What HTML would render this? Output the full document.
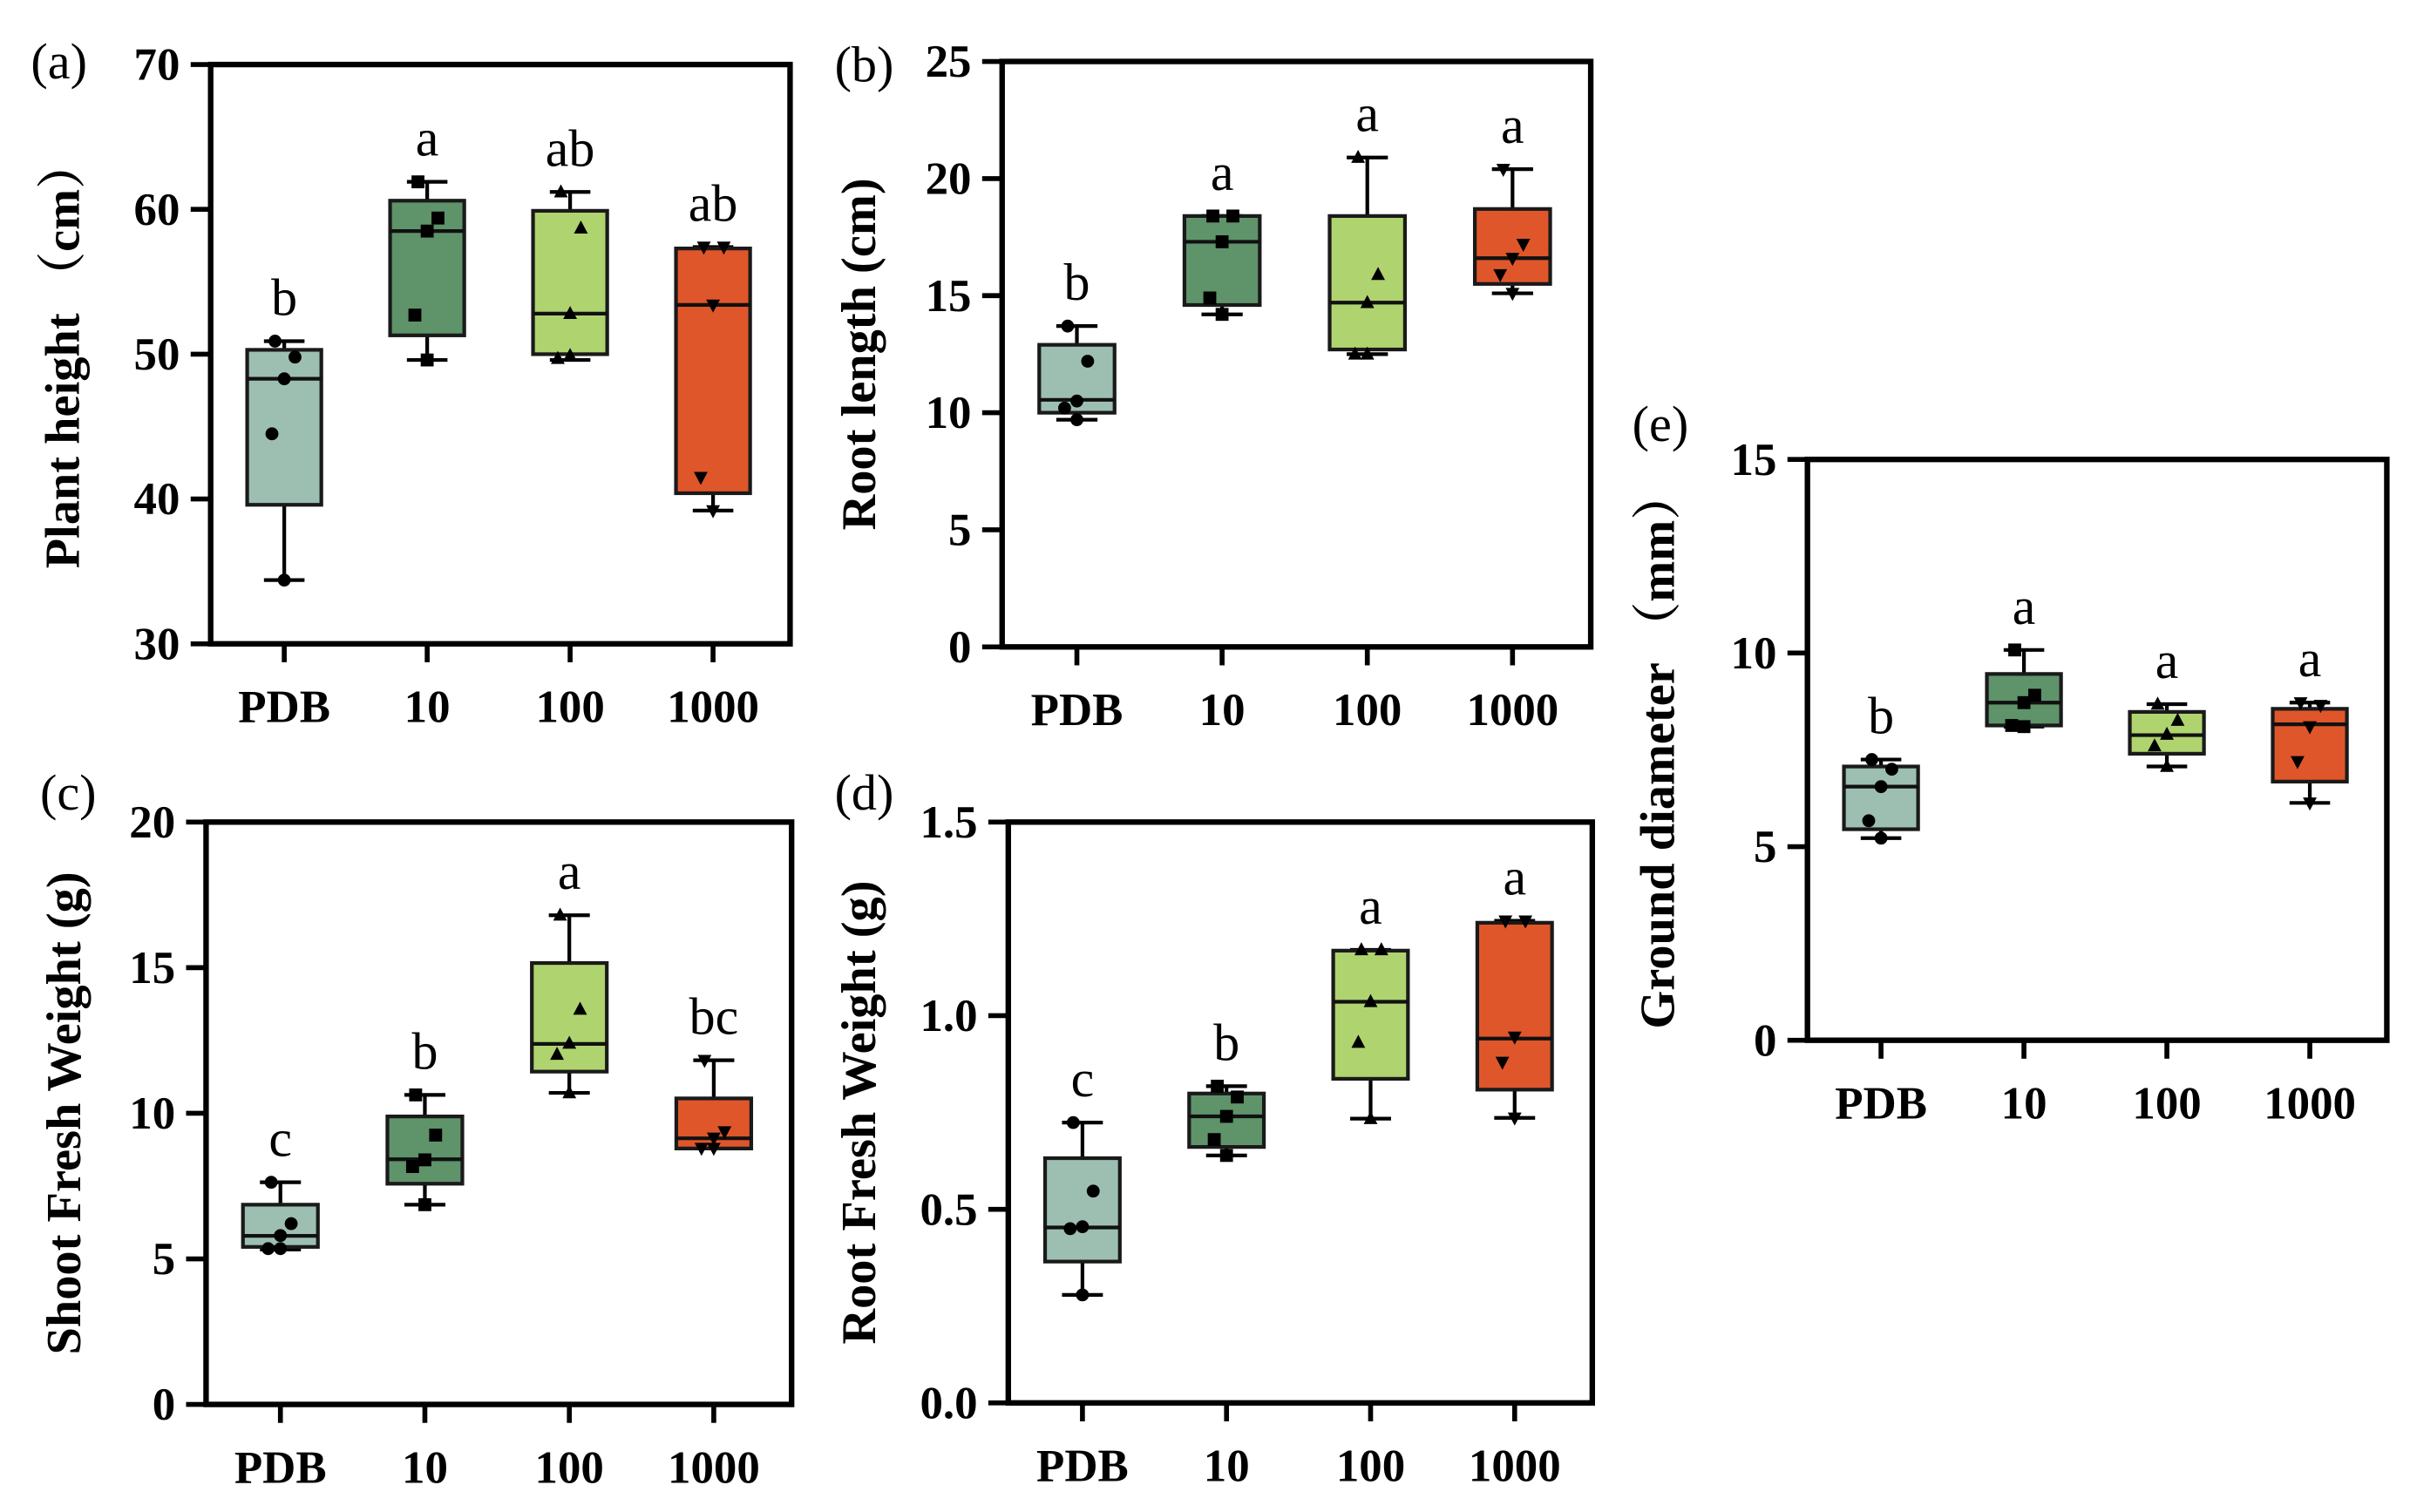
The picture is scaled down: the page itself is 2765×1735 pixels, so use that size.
<!DOCTYPE html>
<html><head><meta charset="utf-8">
<style>
html,body{margin:0;padding:0;background:#fff;}
svg{display:block;}
text{font-family:"Liberation Serif","Times New Roman",Times,serif;fill:#000;}
.cjk{font-family:"Liberation Serif","Noto Serif CJK SC",serif;}
.tick{font-weight:bold;font-size:30px;}
.title{font-weight:bold;font-size:32px;}
.let{font-size:34px;}
.plab{font-size:33px;}
</style></head>
<body>
<svg id="fig" width="2765" height="1735" viewBox="0 0 1568 984" xmlns="http://www.w3.org/2000/svg"></svg>
<script>
const categories = ["PDB","10","100","1000"];
const colors = ["#9dbfb2","#5f936a","#afd46f","#e0562b"];
const markers = ["circle","square","tri-up","tri-down"];

// (a) Plant height
const aMin=[34.4,49.6,49.6,39.2], aQ1=[39.6,51.3,50.0,40.4], aMed=[48.3,58.5,52.8,53.4], aQ3=[50.3,60.6,59.9,57.3], aMax=[50.9,61.9,61.2,57.4];
const aPts=[[50.9,49.8,48.3,44.5,34.4],[61.9,59.4,58.5,52.7,49.6],[61.2,58.7,52.8,49.7,49.9],[57.4,57.4,53.4,41.5,39.2]];
const aLetters=["b","a","ab","ab"];
const aTicks=[30,40,50,60,70];
// (b) Root length
const bMin=[9.7,14.2,12.5,15.1], bQ1=[10.0,14.6,12.7,15.5], bMed=[10.55,17.3,14.7,16.6], bQ3=[12.9,18.4,18.4,18.7], bMax=[13.7,18.4,20.9,20.4];
const bPts=[[13.7,12.2,10.5,10.2,9.7],[18.4,18.4,17.3,14.9,14.2],[20.9,15.9,14.7,12.5,12.5],[20.4,17.2,16.6,15.9,15.1]];
const bLetters=["b","a","a","a"];
const bTicks=[0,5,10,15,20,25];
// (c) Shoot fresh weight
const cMin=[5.32,6.86,10.7,8.8], cQ1=[5.41,7.58,11.43,8.79], cMed=[5.79,8.42,12.38,9.14], cQ3=[6.86,9.89,15.16,10.51], cMax=[7.63,10.63,16.8,11.82];
const cPts=[[7.63,6.21,5.8,5.35,5.35],[10.63,9.25,8.4,8.17,6.86],[16.8,13.57,12.4,12.02,10.7],[11.82,9.37,9.15,8.8,8.8]];
const cLetters=["c","b","a","bc"];
const cTicks=[0,5,10,15,20];
// (d) Root fresh weight
const dMin=[0.279,0.639,0.734,0.736], dQ1=[0.365,0.661,0.837,0.809], dMed=[0.453,0.74,1.036,0.941], dQ3=[0.632,0.799,1.168,1.24], dMax=[0.724,0.818,1.17,1.245];
const dPts=[[0.724,0.547,0.455,0.45,0.279],[0.818,0.79,0.74,0.68,0.639],[1.17,1.17,1.036,0.931,0.734],[1.245,1.245,0.945,0.88,0.736]];
const dLetters=["c","b","a","a"];
const dTicks=[0,0.5,1.0,1.5];
const dTickLabels=["0.0","0.5","1.0","1.5"];
// (e) Ground diameter
const eMin=[5.22,8.1,7.07,6.13], eQ1=[5.45,8.13,7.4,6.68], eMed=[6.55,8.72,7.88,8.16], eQ3=[7.07,9.46,8.48,8.56], eMax=[7.25,10.08,8.68,8.72];
const ePts=[[7.25,7.0,6.55,5.67,5.22],[10.08,8.91,8.72,8.13,8.1],[8.68,8.26,7.9,7.6,7.07],[8.72,8.65,8.1,7.2,6.13]];
const eLetters=["b","a","a","a"];
const eTicks=[0,5,10,15];

const jitter=[-6,7,0,-8,0];
const NS="http://www.w3.org/2000/svg";
const svg=document.getElementById('fig');
function mk(tag,attrs,parent){const e=document.createElementNS(NS,tag);for(const k in attrs)e.setAttribute(k,attrs[k]);(parent||svg).appendChild(e);return e;}

function panel(id,L,R,T,B,ymin,ymax,ticks,tickLabels,mn,q1,md,q3,mx,pts,letters,title,tx,label,lx,ly){
  const g=mk('g',{});
  
  
  const y=v=>B-(v-ymin)/(ymax-ymin)*(B-T);
  const W=R-L;
  const x=i=>L+W*(0.127+0.2467*i);
  const bw=W*0.128, cw=W*0.07;
  for(let i=0;i<categories.length;i++){
    const bg=mk('g',{},g);
    
    
    const cx=x(i);
    const wl=mk('line',{x1:cx,x2:cx,y1:y(mn[i]),y2:y(mx[i]),stroke:'#000','stroke-width':2.4},bg);
    
    
    [mn[i],mx[i]].forEach(v=>{const c=mk('line',{x1:cx-cw/2,x2:cx+cw/2,y1:y(v),y2:y(v),stroke:'#000','stroke-width':2.4},bg);
      
      });
    const r=mk('rect',{x:cx-bw/2,y:y(q3[i]),width:bw,height:y(q1[i])-y(q3[i]),fill:colors[i],stroke:'#1a1a1a','stroke-width':2.4},bg);
    
    
    const m=mk('line',{x1:cx-bw/2,x2:cx+bw/2,y1:y(md[i]),y2:y(md[i]),stroke:'#111','stroke-width':2.4},bg);
    
    
    pts[i].forEach((v,j)=>{
      const px=cx+jitter[j], py=y(v); let p;
      if(markers[i]==='circle') p=mk('circle',{cx:px,cy:py,r:4.2,fill:'#000'},bg);
      else if(markers[i]==='square') p=mk('rect',{x:px-4.2,y:py-4.2,width:8.4,height:8.4,fill:'#000'},bg);
      else if(markers[i]==='tri-up') p=mk('polygon',{points:`${px},${py-5} ${px-4.5},${py+3.5} ${px+4.5},${py+3.5}`,fill:'#000'},bg);
      else p=mk('polygon',{points:`${px},${py+5} ${px-4.5},${py-3.5} ${px+4.5},${py-3.5}`,fill:'#000'},bg);
      
      
    });
    const lt=mk('text',{x:cx,y:y(mx[i])-17,'text-anchor':'middle',class:'let'},bg);
    lt.textContent=letters[i];
    
    
    const xt=mk('line',{x1:cx,x2:cx,y1:B,y2:B+12,stroke:'#000','stroke-width':3.2},g);
    
    
    const xl=mk('text',{x:cx,y:B+51,'text-anchor':'middle',class:'tick'},g);
    xl.textContent=categories[i];
    
    
  }
  ticks.forEach((t,k)=>{
    const tl=mk('line',{x1:L-13,x2:L,y1:y(t),y2:y(t),stroke:'#000','stroke-width':3.2},g);
    
    
    const tt=mk('text',{x:L-20,y:y(t)+10,'text-anchor':'end',class:'tick'},g);
    tt.textContent=tickLabels?tickLabels[k]:String(t);
    
    
  });
  const fr=mk('rect',{x:L,y:T,width:W,height:B-T,fill:'none',stroke:'#000','stroke-width':3.6},g);
  
  
  const cy=(T+B)/2;
  const ti=mk('text',{x:tx,y:cy,'text-anchor':'middle','dominant-baseline':'central',class:'title cjk',transform:`rotate(-90 ${tx} ${cy})`},g);
  ti.textContent=title;
  
  
  const pl=mk('text',{x:lx,y:ly,class:'plab'},g);
  pl.textContent=label;
  
  
}
panel('a',137,514,42,419,30,70,aTicks,null,aMin,aQ1,aMed,aQ3,aMax,aPts,aLetters,'Plant height （cm）',41,'(a)',20,51);
panel('b',652,1035,40,421,0,25,bTicks,null,bMin,bQ1,bMed,bQ3,bMax,bPts,bLetters,'Root length (cm)',559,'(b)',543,53);
panel('c',134,515,535,914,0,20,cTicks,null,cMin,cQ1,cMed,cQ3,cMax,cPts,cLetters,'Shoot Fresh Weight (g)',42,'(c)',26,527);
panel('d',656,1036,535,913,0,1.5,dTicks,dTickLabels,dMin,dQ1,dMed,dQ3,dMax,dPts,dLetters,'Root Fresh Weight (g)',559,'(d)',543,527);
panel('e',1176,1553,299,677,0,15,eTicks,null,eMin,eQ1,eMed,eQ3,eMax,ePts,eLetters,'Ground diameter （mm）',1079,'(e)',1062,287);
</script>
</body></html>
